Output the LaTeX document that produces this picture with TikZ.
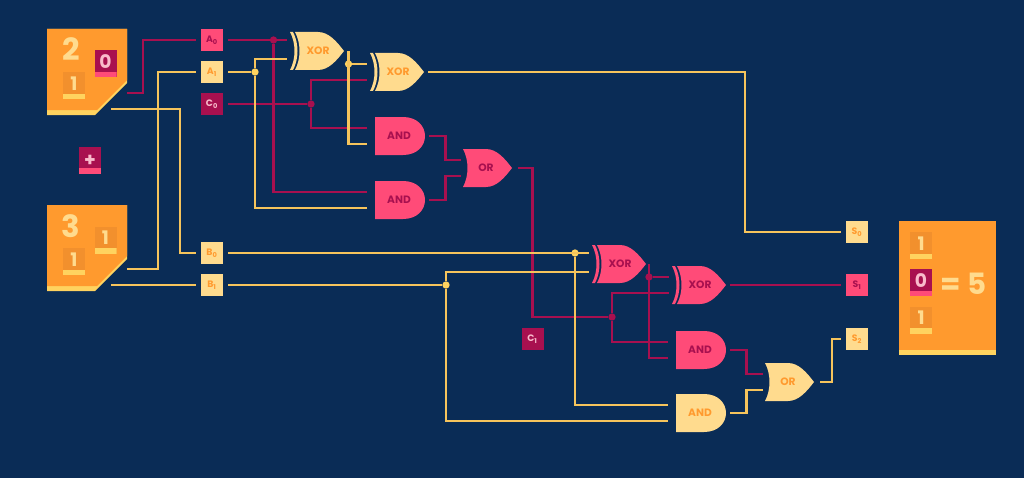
\documentclass[tikz,border=0pt]{standalone}
\usepackage{fontspec}
\setmainfont{Poppins}
\usetikzlibrary{positioning, calc}
\definecolor{navy}{HTML}{0A2C56}
\definecolor{amber}{HTML}{FF9A2E}
\definecolor{amberdk}{HTML}{F2902D}
\definecolor{cream}{HTML}{FFDB8E}
\definecolor{rose}{HTML}{FF4B78}
\definecolor{wine}{HTML}{A8104F}
\definecolor{gold}{HTML}{FFD35F}
\definecolor{wireg}{HTML}{F6C45C}
\definecolor{blush}{HTML}{F9BBCB}
\tikzset{
  x=0.75pt, y=-0.75pt,
  wiregold/.style={draw=wireg, line width=2.2pt}, % yellow signal
  wirewine/.style={draw=wine, line width=2.2pt}, % magenta signal
  tag/.style={minimum size=16.5pt, inner sep=0pt, outer sep=3.75pt, font=\bfseries\fontsize{7}{7}\selectfont},
  tagcream/.style={tag, fill=cream, text=amber},
  tagrose/.style={tag, fill=rose, text=wine},
  tagwine/.style={tag, fill=wine, text=blush},
  dotgold/.style={circle, fill=gold, inner sep=0pt, minimum size=5.5pt},
  dotwine/.style={circle, fill=wine, inner sep=0pt, minimum size=5.5pt},
  digit/.style 2 args={minimum width=16.5pt, inner sep=0pt, text depth=6.75pt, text height=13.5pt, fill=#1,
    font=\bfseries\fontsize{14}{14}\selectfont,
    path picture={\fill[#2] ([yshift=3.9pt]path picture bounding box.south west) rectangle (path picture bounding box.south east);}},
  digitbit/.style={digit={amberdk}{gold}, text=cream},
  digitzero/.style={digit={wine}{rose}, text=blush},
  pics/xorgate/.style n args={2}{code={
    \fill[#1] (0,-19) -- (3,-19) .. controls (9,-8) and (9,8) .. (3,19) -- (0,19) .. controls (6,8) and (6,-8) .. (0,-19) -- cycle;
    \fill[#1] (5,-19) -- (28,-19) .. controls (39,-19) and (47,-9) .. (54,0) .. controls (47,9) and (39,19) .. (28,19) -- (5,19) .. controls (11,8) and (11,-8) .. (5,-19) -- cycle;
    \node[text=#2, font=\bfseries\fontsize{8}{8}\selectfont, inner sep=0pt] (-label) at (28,0) {XOR};
    \coordinate (-in1) at (-3,-8);
    \coordinate (-in2) at (-3,8);
    \coordinate (-out) at (58,0);
  }},
  pics/orgate/.style n args={2}{code={
    \fill[#1] (0,-19) -- (23,-19) .. controls (34,-19) and (42,-9) .. (49,0) .. controls (42,9) and (34,19) .. (23,19) -- (0,19) .. controls (6,8) and (6,-8) .. (0,-19) -- cycle;
    \node[text=#2, font=\bfseries\fontsize{8}{8}\selectfont, inner sep=0pt] (-label) at (23,0) {OR};
    \coordinate (-in1) at (-2.5,-8);
    \coordinate (-in2) at (-2.5,8);
    \coordinate (-out) at (55,0);
  }},
  pics/andgate/.style n args={2}{code={
    \fill[#1] (0,-19) -- (28,-19) .. controls (42,-19) and (50,-10) .. (50,0) .. controls (50,10) and (42,19) .. (28,19) -- (0,19) -- cycle;
    \node[text=#2, font=\bfseries\fontsize{8}{8}\selectfont, inner sep=0pt] (-label) at (24,0) {AND};
    \coordinate (-in1) at (-8,-8);
    \coordinate (-in2) at (-8,8);
    \coordinate (-out) at (54,0);
  }},
}

\begin{document}
\begin{tikzpicture}
\useasboundingbox (0,0) rectangle (1024,478);
\fill[navy] (0,0) rectangle (1024,478);

% the two operands
\fill[gold] (47,29) -- (127,29) -- (127,83) -- (95,115) -- (47,115) -- cycle;
\fill[amber] (47,29) -- (127,29) -- (127,80) -- (97,110) -- (47,110) -- cycle;
\fill[gold] (47,205) -- (127,205) -- (127,259) -- (95,291) -- (47,291) -- cycle;
\fill[amber] (47,205) -- (127,205) -- (127,256) -- (97,286) -- (47,286) -- cycle;
\node[text=cream, inner sep=0pt, font=\bfseries\fontsize{23}{23}\selectfont] (two) at (71,49) {2};
\node[text=cream, inner sep=0pt, font=\bfseries\fontsize{23}{23}\selectfont] (three) at (71,226) {3};
\node[digitzero] (ta) at (105.5,64) {0};
\node[digitbit] (tb) at (74,85.5) {1};
\node[digitbit] (tc) at (105.5,240) {1};
\node[digitbit] (td) at (74,261.5) {1};
\node[digit={wine}{rose}, text=blush, text height=15pt, text depth=5.25pt] (plus) at (90,160) {+};

% the result
\fill[gold] (899,221) rectangle (996,355);
\fill[amber] (899,221) rectangle (996,350);
\node[digitbit] (te) at (921,245.5) {1};
\node[digitzero] (tf) at (921,282.5) {0};
\node[digitbit] (tg) at (921,320) {1};
\node[text=cream, inner sep=0pt, font=\bfseries\fontsize{22}{22}\selectfont] (sum) at (963.5,284) {= 5};

% inputs and outputs
\node[tagrose] (a0) at (212,40) {A\textsubscript{0}};
\node[tagcream] (a1) at (212,72) {A\textsubscript{1}};
\node[tagwine] (c0) at (212,104) {C\textsubscript{0}};
\node[tagcream] (b0) at (212,253) {B\textsubscript{0}};
\node[tagcream] (b1) at (212,285) {B\textsubscript{1}};
\node[tagwine] (c1) at (532.5,339) {C\textsubscript{1}};
\node[tagcream] (s0) at (857,232) {S\textsubscript{0}};
\node[tagrose] (s1) at (857,285) {S\textsubscript{1}};
\node[tagcream] (s2) at (857,339) {S\textsubscript{2}};

\coordinate (pa) at (127,93);
\coordinate (pb) at (111,109);
\coordinate (pc) at (127,269);
\coordinate (pd) at (111,285);

% gates
\pic (x1) at (290,51) {xorgate={cream}{amber}};
\pic (x2) at (370,72) {xorgate={cream}{amber}};
\pic (n1) at (375,136) {andgate={rose}{wine}};
\pic (n2) at (375,200) {andgate={rose}{wine}};
\pic (o1) at (463,168) {orgate={rose}{wine}};
\pic (x3) at (592,264) {xorgate={rose}{wine}};
\pic (x4) at (672,285) {xorgate={rose}{wine}};
\pic (n3) at (676,350) {andgate={rose}{wine}};
\pic (n4) at (676,413) {andgate={cream}{amber}};
\pic (o2) at (765,382) {orgate={cream}{amber}};

% junctions
\node[dotwine] (ja) at (273.5,40) {};
\node[dotgold] (jb) at (255,72) {};
\node[dotwine] (jc) at (311,104) {};
\node[dotgold] (jd) at (348.5,64) {};
\node[dotgold] (je) at (575,253) {};
\node[dotgold] (jf) at (446,285) {};
\node[dotwine] (jg) at (612,317) {};
\node[dotwine] (jh) at (649,277) {};

% wires
\draw[wirewine] (pa) -- ++(16,0) |- (a0.west);
\draw[wiregold] (pc) -- ++(31,0) |- (a1.west);
\draw[wiregold] (pb) -- ++(69,0) |- (b0.west);
\draw[wiregold] (pd) -- (b1.west);

\draw[wirewine] (a0.east) -- (a0.east -| x1-in1);
\draw[wirewine] (ja) |- (n2-in1);
\draw[wirewine] (c0.east) -- (jc);
\draw[wirewine] (jc) |- (x2-in2);
\draw[wirewine] (jc) |- (n1-in1);
\draw[wiregold] (a1.east) -- (jb);
\draw[wiregold] (jb) |- (x1-in2);
\draw[wiregold] (jb) |- (n2-in2);
\draw[wiregold] (jd) -- (x2-in1);
\draw[wiregold] (x1-out -| jd) |- (n1-in2);
\draw[wiregold] (x2-out) -- ++(317,0) |- (s0.west);

\draw[wirewine] (n1-out) -- ++(16.5,0) |- (o1-in1);
\draw[wirewine] (n2-out) -- ++(16.5,0) |- (o1-in2);
\draw[wirewine] (o1-out) -- ++(14.5,0) |- (jg);
\draw[wirewine] (jg) |- (x4-in2);
\draw[wirewine] (jg) |- (n3-in1);

\draw[wiregold] (b0.east) -- (b0.east -| x3-in1);
\draw[wiregold] (je) |- (n4-in1);
\draw[wiregold] (b1.east) -- (jf);
\draw[wiregold] (jf) |- (x3-in2);
\draw[wiregold] (jf) |- (n4-in2);

\draw[wirewine] (jh) -- (x4-in1);
\draw[wirewine] (x3-out -| jh) |- (n3-in2);
\draw[wirewine] (x4-out) -- (s1.west);

\draw[wirewine] (n3-out) -- ++(16.5,0) |- (o2-in1);
\draw[wiregold] (n4-out) -- ++(16.5,0) |- (o2-in2);
\draw[wiregold] (o2-out) -- ++(12,0) |- (s2.west);
\end{tikzpicture}
\end{document}
